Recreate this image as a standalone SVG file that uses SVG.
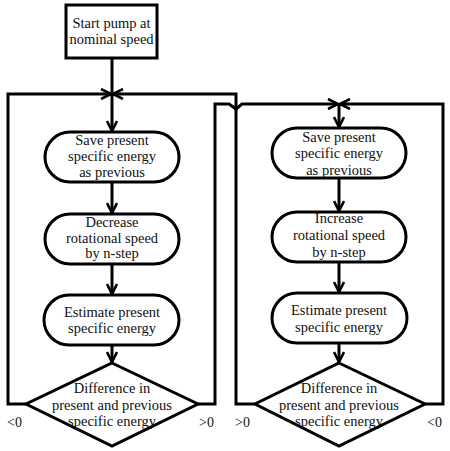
<svg xmlns="http://www.w3.org/2000/svg" width="450" height="451" viewBox="0 0 450 451">
<style>
.box{fill:#fff;stroke:#000;stroke-width:3}
.ln{fill:none;stroke:#000;stroke-width:3;stroke-linejoin:miter}
text{font-family:"Liberation Serif","Times New Roman",serif;font-size:14.5px;fill:#111;text-anchor:middle}
.lbl{font-size:14px;text-anchor:start}
</style>
<defs>
<marker id="ah" viewBox="0 0 12 12" refX="11" refY="6" markerWidth="12" markerHeight="12" markerUnits="userSpaceOnUse" orient="auto">
<path d="M1,1 L11,6 L1,11" fill="none" stroke="#000" stroke-width="2.6"/>
</marker>
</defs>
<rect width="450" height="451" fill="#fff"/>
<g id="connectors">
<path class="ln" d="M112,58 V94"/>
<path class="ln" d="M112,94 V131" marker-end="url(#ah)"/>
<path class="ln" d="M26,404 H8 V94 H111" marker-end="url(#ah)"/>
<path class="ln" d="M255,404 H236 V94 H113" marker-end="url(#ah)"/>
<path class="ln" d="M198,404 H215 V104 H229 L236,109 L242,104 H338" marker-end="url(#ah)"/>
<path class="ln" d="M425,404 H443 V104 H340" marker-end="url(#ah)"/>
<path class="ln" d="M339,104 V127" marker-end="url(#ah)"/>
<path class="ln" d="M112,182 V213" marker-end="url(#ah)"/>
<path class="ln" d="M112,264 V294" marker-end="url(#ah)"/>
<path class="ln" d="M112,345 V362" marker-end="url(#ah)"/>
<path class="ln" d="M339,178 V211" marker-end="url(#ah)"/>
<path class="ln" d="M339,262 V292" marker-end="url(#ah)"/>
<path class="ln" d="M339,343 V362" marker-end="url(#ah)"/>
</g>
<g id="start">
<rect class="box" x="66" y="5" width="91" height="53"/>
<text x="111.5" y="28">Start pump at</text>
<text x="111.5" y="44">nominal speed</text>
</g>
<g id="save-left">
<rect class="box" x="45" y="132" width="134" height="50" rx="25"/>
<text x="112" y="145">Save present</text>
<text x="112" y="161">specific energy</text>
<text x="112" y="177">as previous</text>
</g>
<g id="decrease">
<rect class="box" x="45" y="214" width="134" height="50" rx="25"/>
<text x="112" y="227">Decrease</text>
<text x="112" y="243">rotational speed</text>
<text x="112" y="258">by n-step</text>
</g>
<g id="estimate-left">
<rect class="box" x="44" y="295" width="135" height="50" rx="25"/>
<text x="112" y="317">Estimate present</text>
<text x="112" y="333">specific energy</text>
</g>
<g id="decision-left">
<path class="box" d="M112,363 L198,404 L112,446 L26,404 Z"/>
<text x="112" y="393">Difference in</text>
<text x="112" y="410">present and previous</text>
<text x="112" y="426">specific energy</text>
<text class="lbl" x="7" y="427">&lt;0</text>
<text class="lbl" x="199" y="427">&gt;0</text>
</g>
<g id="save-right">
<rect class="box" x="272" y="128" width="134" height="50" rx="25"/>
<text x="339" y="142">Save present</text>
<text x="339" y="158">specific energy</text>
<text x="339" y="175">as previous</text>
</g>
<g id="increase">
<rect class="box" x="272" y="212" width="134" height="50" rx="25"/>
<text x="339" y="223">Increase</text>
<text x="339" y="240">rotational speed</text>
<text x="339" y="257">by n-step</text>
</g>
<g id="estimate-right">
<rect class="box" x="272" y="293" width="135" height="50" rx="25"/>
<text x="339" y="315">Estimate present</text>
<text x="339" y="332">specific energy</text>
</g>
<g id="decision-right">
<path class="box" d="M339,363 L425,404 L339,446 L255,404 Z"/>
<text x="339" y="393">Difference in</text>
<text x="339" y="410">present and previous</text>
<text x="339" y="426">specific energy</text>
<text class="lbl" x="235" y="427">&gt;0</text>
<text class="lbl" x="427" y="427">&lt;0</text>
</g>
</svg>
